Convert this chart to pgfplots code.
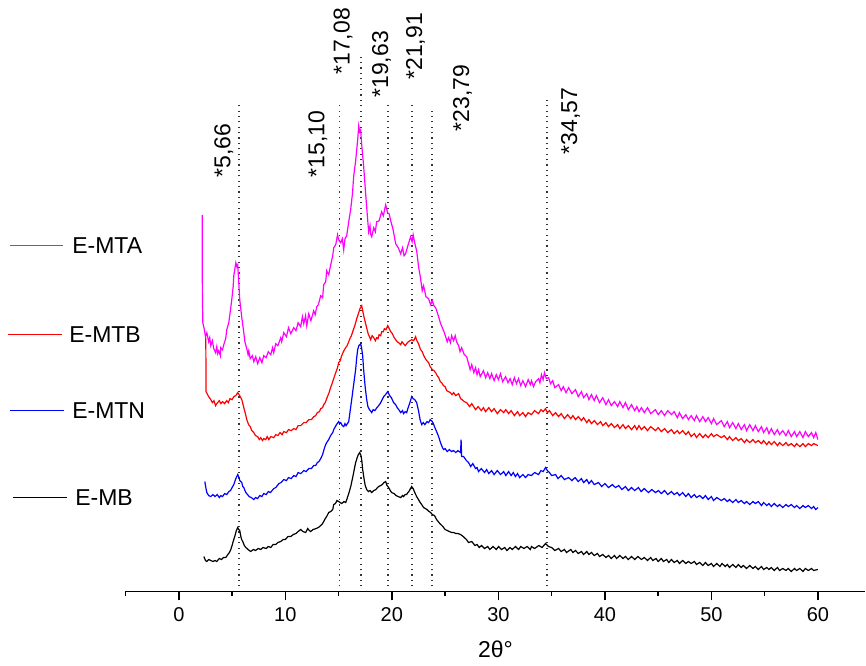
\documentclass[border=0pt]{standalone}
\usepackage{fontspec}
\setmainfont{Liberation Sans}
\usepackage{pgfplots}
\pgfplotsset{compat=1.18}
\definecolor{mta}{RGB}{255,0,255}
\definecolor{mtb}{RGB}{255,0,0}
\definecolor{mtn}{RGB}{0,0,255}
\begin{document}
\begin{tikzpicture}
\begin{axis}[
  scale only axis,
  width=370.2pt, height=296pt,
  xmin=-5, xmax=64.45, ymin=0, ymax=592,
  axis x line=bottom, axis y line=none,
  axis line style={-, line width=0.7pt},
  xtick={0,10,...,60},
  minor xtick={-5,5,15,25,35,45,55},
  tick align=outside,
  major tick length=4.5pt, minor tick length=2.4pt,
  tick style={black, line width=0.7pt},
  clip=false,
  /pgf/number format/assume math mode=true,
  xticklabel style={font=\fontsize{10}{12}\selectfont},
  xlabel={2θ°},
  x label style={at={(axis description cs:0.5,0)}, anchor=center, yshift=-29pt, font=\fontsize{11.5}{13}\selectfont},
]
% invisible frame giving the picture its size
\path (axis cs:-16.79,592) rectangle (axis cs:64.45,-74);

% reference lines
\foreach \xx/\yy in {5.66/489, 15.10/489, 17.08/537, 19.63/489, 21.91/490, 23.79/485, 34.57/494}{
  \edef\temp{\noexpand\draw[black!80, line width=0.8pt, dash pattern=on 0.6pt off 2.1pt] (axis cs:\xx,5) -- (axis cs:\xx,\yy);}
  \temp
}
\begin{scope}[every node/.style={rotate=90, anchor=west, inner sep=0pt, font=\fontsize{11.5}{13}\selectfont}]
\node at (axis cs:4.22,414) {*5,66};
\node at (axis cs:13.04,414) {*15,10};
\node at (axis cs:15.43,517) {*17,08};
\node at (axis cs:19.04,494) {*19,63};
\node at (axis cs:22.23,512) {*21,91};
\node at (axis cs:26.64,460) {*23,79};
\node at (axis cs:36.77,437) {*34,57};
\end{scope}

% legend-like labels
\begin{scope}[every node/.style={anchor=west, inner sep=0pt, font=\fontsize{11.5}{13}\selectfont}]
\draw[mta, line width=0.6pt] (axis cs:-15.85,346) -- (axis cs:-10.88,346);
\node at (axis cs:-10.04,346) {E-MTA};
\draw[mtb, line width=0.6pt] (axis cs:-16.04,257) -- (axis cs:-10.98,257);
\node at (axis cs:-10.32,257) {E-MTB};
\draw[mtn, line width=0.6pt] (axis cs:-15.85,181) -- (axis cs:-10.79,181);
\node at (axis cs:-10.04,181) {E-MTN};
\draw[black, line width=0.6pt] (axis cs:-15.57,94) -- (axis cs:-10.51,94);
\node at (axis cs:-9.76,94) {E-MB};
\end{scope}

% E-MTA
\addplot[mta, line width=0.6pt] coordinates {
(2.19,377) (2.21,300) (2.25,269) (2.4,262) (2.5,255) (2.63,259) (2.8,250) (2.9,254) (3.0,246) (3.15,251)
(3.28,243) (3.45,239) (3.56,245) (3.65,238) (3.75,241) (3.9,236) (3.94,244) (4.1,242) (4.22,247) (4.4,253)
(4.5,262) (4.69,269) (4.85,282) (4.97,292) (5.1,305) (5.16,316) (5.35,329) (5.45,325) (5.53,327) (5.72,292)
(5.9,275) (6.10,259) (6.2,250) (6.38,243) (6.5,237) (6.57,241) (6.7,233) (6.9,236) (7.04,230) (7.22,235)
(7.4,228) (7.6,234) (7.8,229) (7.97,236) (8.2,234) (8.4,240) (8.63,237) (8.8,244) (8.91,239) (9.1,248)
(9.3,246) (9.57,254) (9.66,250) (9.85,259) (10.1,255) (10.3,264) (10.51,258) (10.79,264) (11.0,261) (11.2,269)
(11.44,265) (11.6,275) (11.73,268) (11.9,276) (12.01,266) (12.2,278) (12.4,271) (12.66,281) (12.8,277) (12.95,285)
(13.1,287) (13.32,296) (13.5,294) (13.6,307) (13.79,310) (13.88,321) (14.07,317) (14.26,327) (14.45,336) (14.54,344)
(14.73,347) (14.9,357) (15.01,352) (15.2,349) (15.35,353) (15.48,342) (15.6,353) (15.76,356) (15.95,370) (16.14,383)
(16.3,398) (16.42,416) (16.60,431) (16.79,452) (16.89,466) (16.98,460) (17.07,462) (17.17,447) (17.35,426) (17.54,398)
(17.7,376) (17.82,360) (17.95,366) (18.0,358) (18.11,355) (18.3,364) (18.45,360) (18.57,370) (18.8,371) (19.04,380)
(19.2,376) (19.42,387) (19.6,379) (19.75,378) (19.89,371) (20.1,363) (20.36,348) (20.6,344) (20.83,338) (21.0,344)
(21.15,336) (21.29,338) (21.5,346) (21.76,355) (21.9,350) (22.0,357) (22.14,349) (22.33,341) (22.51,325) (22.7,313)
(22.85,301) (22.98,306) (23.2,295) (23.45,293) (23.64,287) (23.8,291) (23.95,286) (24.11,284) (24.39,275) (24.58,268)
(24.86,261) (25.05,255) (25.2,250) (25.33,254) (25.5,249) (25.61,256) (25.8,251) (25.95,256) (26.08,250) (26.27,246)
(26.4,240) (26.55,244) (26.8,237) (27.02,235)
(27.20,228) (27.35,222) (27.5,227) (27.7,219) (27.86,224) (28.0,217) (28.14,222) (28.3,215) (28.6,221) (28.8,214)
(29.0,219) (29.2,213) (29.36,218) (29.6,211) (29.8,217) (30.0,212) (30.2,218) (30.4,210) (30.68,215) (30.9,209)
(31.1,213) (31.3,207) (31.5,214) (31.7,208) (31.89,213) (32.1,206) (32.3,211) (32.55,205) (32.8,212) (33.0,207)
(33.11,211) (33.3,205) (33.5,210) (33.77,213) (33.9,209) (34.05,217) (34.2,212) (34.33,219) (34.5,213) (34.71,214)
(34.9,208) (35.1,211) (35.3,204) (35.65,207) (35.9,201) (36.1,205) (36.35,199) (36.6,204) (36.9,198) (37.24,202)
(37.5,195) (37.8,200) (38.0,194) (38.3,198) (38.5,192) (38.74,197) (39.0,191) (39.2,196) (39.5,189) (39.8,194)
(40.1,187) (40.34,192) (40.6,186) (40.9,190) (41.2,185) (41.4,190) (41.7,184) (41.93,189) (42.2,182) (42.5,187)
(42.8,181) (43.0,185) (43.2,180) (43.43,184) (43.7,179) (44.0,184) (44.3,178) (44.75,182) (45.0,177) (45.3,181)
(45.6,176) (45.9,181) (46.25,177) (46.5,180) (46.8,174) (47.0,179) (47.3,173) (47.6,177) (47.84,172) (48.1,176)
(48.4,171) (48.6,176) (48.9,170) (49.2,175) (49.44,170) (49.7,174) (50.0,168) (50.2,173) (50.5,167) (50.94,171)
(51.2,165) (51.5,170) (51.7,164) (52.0,169) (52.3,163) (52.53,168) (52.8,162) (53.1,167) (53.3,161) (53.6,167)
(53.9,161) (54.13,166) (54.4,160) (54.7,165) (54.9,159) (55.2,164) (55.4,158) (55.63,163) (55.9,157) (56.2,162)
(56.4,157) (56.7,161) (57.0,156) (57.22,161) (57.5,155) (57.8,160) (58.0,155) (58.3,160) (58.6,154) (58.82,160)
(59.1,155) (59.4,159) (59.6,154) (59.8,159) (60.0,152)
};

% E-MTB
\addplot[mtb, line width=0.6pt] coordinates {
(2.53,254) (2.56,200) (2.8,195) (3.0,192) (3.15,189) (3.3,191) (3.45,186) (3.56,188) (3.8,191) (3.95,188)
(4.1,190) (4.3,188) (4.5,191) (4.65,189) (4.8,193) (5.0,192) (5.16,195) (5.35,196) (5.53,199) (5.72,196)
(5.91,192) (6.1,184) (6.25,178) (6.38,172) (6.55,167) (6.7,165) (6.85,161) (7.04,159) (7.2,156) (7.4,155)
(7.55,152) (7.69,154) (7.85,151) (7.97,153) (8.15,152) (8.3,155) (8.45,152) (8.63,155) (8.91,154) (9.1,157)
(9.3,156) (9.5,159) (9.7,157) (9.85,160) (10.1,159) (10.3,162) (10.55,161) (10.79,163) (11.0,162) (11.2,166)
(11.45,166) (11.73,169) (11.95,169) (12.2,172) (12.45,172) (12.66,175) (12.85,176) (13.0,179) (13.2,180) (13.32,183)
(13.5,184) (13.6,187) (13.75,189) (13.88,193) (14.07,198) (14.25,204) (14.45,210) (14.6,215) (14.73,219) (14.9,224)
(15.0,229) (15.15,231) (15.29,236) (15.45,240) (15.6,243) (15.8,246) (15.95,250) (16.1,254) (16.2,256) (16.42,263)
(16.55,267) (16.7,273) (16.89,279) (17.0,283) (17.17,286) (17.3,279) (17.4,274) (17.54,268) (17.7,261) (17.8,257)
(17.9,255) (18.01,252) (18.15,256) (18.3,254) (18.45,251) (18.57,254) (18.7,253) (18.8,257) (18.95,256) (19.04,260)
(19.2,260) (19.3,263) (19.45,262) (19.61,266) (19.75,263) (19.9,260) (20.05,258) (20.17,255) (20.35,252) (20.5,250)
(20.65,249) (20.83,247) (20.95,250) (21.1,248) (21.25,246) (21.39,248) (21.55,250) (21.7,251) (21.86,252) (22.05,251)
(22.23,255) (22.35,251) (22.5,248) (22.70,242) (22.85,240) (23.0,236) (23.2,232) (23.45,229) (23.6,225) (23.8,222)
(23.95,221) (24.11,219) (24.25,216) (24.4,214) (24.55,210) (24.67,209) (24.85,206) (25.0,205) (25.15,201) (25.33,200)
(25.5,199) (25.65,197) (25.8,199) (26.0,196) (26.27,198) (26.45,193) (26.6,192) (26.8,190)
(27.02,189) (27.3,185) (27.5,188) (27.86,182) (28.1,185) (28.4,181) (28.6,184) (28.8,180) (29.1,184) (29.36,180)
(29.6,183) (29.9,178) (30.2,182) (30.5,179) (30.7,182) (30.96,178) (31.2,181) (31.5,176) (31.8,180) (32.0,176)
(32.3,179) (32.55,175) (32.8,179) (33.1,177) (33.4,181) (33.77,178) (34.0,182) (34.2,180) (34.43,183) (34.6,179)
(34.8,181) (35.1,176) (35.37,179) (35.65,175) (35.9,178) (36.2,173) (36.5,177) (36.8,173) (37.0,176) (37.24,172)
(37.5,175) (37.8,171) (38.0,174) (38.3,169) (38.5,172) (38.74,168) (39.0,171) (39.3,167) (39.6,170) (39.8,166)
(40.1,169) (40.34,165) (40.6,168) (40.9,164) (41.2,167) (41.4,163) (41.7,167) (41.93,163) (42.2,166) (42.5,162)
(42.8,166) (43.0,162) (43.2,166) (43.43,162) (43.7,165) (44.0,161) (44.3,165) (44.75,161) (45.0,164) (45.3,160)
(45.6,163) (45.9,159) (46.25,162) (46.5,158) (46.8,161) (47.0,158) (47.3,161) (47.6,157) (47.84,160) (48.1,155)
(48.4,158) (48.6,154) (48.9,158) (49.2,154) (49.44,157) (49.7,154) (50.0,158) (50.2,155) (50.5,157) (50.94,154)
(51.2,156) (51.5,152) (51.7,155) (52.0,151) (52.3,154) (52.53,151) (52.8,153) (53.1,149) (53.3,152) (53.6,149)
(53.9,152) (54.13,149) (54.4,151) (54.7,148) (54.9,151) (55.2,147) (55.4,150) (55.63,147) (55.9,150) (56.2,146)
(56.4,149) (56.7,146) (57.0,149) (57.22,146) (57.5,148) (57.8,145) (58.0,148) (58.3,145) (58.6,148) (58.82,145)
(59.1,148) (59.4,146) (59.6,148) (60.0,146)
};

% E-MTN
\addplot[mtn, line width=0.6pt] coordinates {
(2.44,110) (2.55,103) (2.63,99) (2.8,96) (3.0,95) (3.2,97) (3.4,95) (3.6,97) (3.8,94) (3.94,96)
(4.1,95) (4.3,98) (4.5,97) (4.69,100) (4.85,101) (5.0,104) (5.16,107) (5.35,113) (5.53,117) (5.65,114)
(5.72,111) (5.91,109) (6.0,105) (6.1,104) (6.29,99) (6.45,97) (6.6,95) (6.8,94) (7.04,92) (7.2,94)
(7.4,93) (7.6,96) (7.8,95) (7.97,98) (8.2,97) (8.4,100) (8.6,99) (8.91,103) (9.1,104) (9.4,108)
(9.6,109) (9.85,112) (10.1,111) (10.3,114) (10.55,113) (10.79,116) (11.0,115) (11.2,119) (11.45,118) (11.73,121)
(11.95,120) (12.2,123) (12.45,123) (12.66,126) (12.85,126) (13.0,129) (13.15,130) (13.32,133) (13.5,137) (13.6,141)
(13.75,146) (13.88,149) (14.07,152) (14.25,156) (14.45,159) (14.54,162) (14.7,165) (14.8,167) (15.01,170) (15.1,168)
(15.2,169) (15.35,166) (15.48,165) (15.6,168) (15.7,166) (15.95,170) (16.1,182) (16.23,192) (16.4,206) (16.60,222)
(16.7,234) (16.79,242) (16.9,246) (17.07,248) (17.17,243) (17.26,236) (17.35,222) (17.5,204) (17.64,192) (17.75,185)
(17.9,182) (18.11,179) (18.25,182) (18.4,181) (18.6,184) (18.76,186) (18.9,188) (19.0,190) (19.23,195) (19.4,197)
(19.61,200) (19.8,196) (19.95,194) (20.17,189) (20.35,187) (20.5,184) (20.65,182) (20.83,179) (21.0,181) (21.1,178)
(21.25,180) (21.39,179) (21.5,183) (21.6,186) (21.75,191) (21.86,195) (22.0,193) (22.15,192) (22.33,189) (22.5,181)
(22.65,172) (22.80,167) (22.95,169) (23.1,167) (23.3,170) (23.45,169) (23.6,172) (23.8,170) (23.9,168) (24.0,165)
(24.2,160) (24.39,155) (24.6,148) (24.75,144) (24.86,142) (25.0,143) (25.2,140) (25.4,142) (25.61,140) (25.8,141)
(26.0,139) (26.2,141) (26.45,139) (26.5,152) (26.55,135) (26.74,135) (27.0,131)
(27.20,129) (27.4,125) (27.6,128) (27.86,123) (28.0,124) (28.14,120) (28.4,123) (28.7,119) (28.9,122) (29.1,118)
(29.36,121) (29.6,117) (29.9,121) (30.2,117) (30.5,120) (30.7,116) (30.96,120) (31.2,116) (31.4,119) (31.6,115)
(31.8,118) (32.0,114) (32.3,117) (32.55,114) (32.8,117) (33.1,116) (33.4,119) (33.77,117) (34.0,121) (34.2,120)
(34.43,124) (34.6,121) (34.8,119) (35.0,116) (35.37,117) (35.6,113) (35.9,116) (36.2,112) (36.59,114) (36.9,111)
(37.2,114) (37.5,110) (37.80,113) (38.0,109) (38.3,112) (38.5,108) (38.74,111) (39.0,107) (39.40,109) (39.7,105)
(40.0,108) (40.34,104) (40.7,107) (40.99,104) (41.3,106) (41.6,102) (41.93,105) (42.2,101) (42.50,104) (42.8,101)
(43.15,104) (43.4,100) (43.7,103) (44.09,99) (44.4,102) (44.75,99) (45.03,101) (45.3,98) (45.6,101) (45.9,97)
(46.25,100) (46.5,97) (46.8,99) (47.0,96) (47.3,99) (47.6,95) (47.84,98) (48.1,94) (48.4,97) (48.6,94)
(48.9,96) (49.2,93) (49.44,96) (49.7,92) (50.0,95) (50.2,91) (50.5,94) (50.94,91) (51.2,93) (51.5,90)
(51.7,92) (52.0,89) (52.3,92) (52.53,89) (52.8,91) (53.1,88) (53.3,90) (53.6,87) (53.9,90) (54.13,88)
(54.4,90) (54.7,86) (54.9,89) (55.2,86) (55.4,88) (55.63,85) (55.9,88) (56.2,85) (56.4,87) (56.7,84)
(57.0,87) (57.22,85) (57.5,87) (57.8,84) (58.0,86) (58.3,83) (58.6,86) (58.82,84) (59.1,86) (59.4,83)
(59.6,85) (59.8,82) (60.0,84)
};

% E-MB
\addplot[black, line width=0.6pt] coordinates {
(2.35,35) (2.5,31) (2.63,30) (2.8,32) (3.0,31) (3.2,30) (3.4,31) (3.56,30) (3.8,33) (4.0,32)
(4.2,34) (4.41,34) (4.6,37) (4.75,39) (4.88,42) (5.0,46) (5.1,50) (5.25,55) (5.4,61) (5.53,64)
(5.62,62) (5.72,61) (5.82,55) (5.9,52) (6.0,50) (6.15,46) (6.29,44) (6.5,42) (6.75,40) (7.0,42)
(7.2,41) (7.45,43) (7.69,42) (7.9,44) (8.2,43) (8.4,45) (8.63,44) (8.85,47) (9.1,47) (9.3,49)
(9.57,50) (9.8,52) (10.0,52) (10.25,55) (10.51,55) (10.75,57) (11.0,58) (11.2,60) (11.44,62) (11.65,60)
(11.91,59) (12.1,63) (12.25,61) (12.38,60) (12.6,62) (12.9,63) (13.1,64) (13.32,66) (13.5,68) (13.6,70)
(13.75,73) (13.88,75) (14.07,79) (14.25,80) (14.45,82) (14.54,87) (14.7,88) (14.85,91) (15.01,90) (15.15,89)
(15.3,88) (15.5,90) (15.67,89) (15.8,93) (15.95,98) (16.14,105) (16.3,113) (16.45,121) (16.60,129) (16.75,134)
(16.85,137) (16.98,139) (17.1,136) (17.18,131) (17.26,122) (17.4,112) (17.5,106) (17.64,102) (17.8,100) (17.95,101)
(18.11,99) (18.3,101) (18.5,102) (18.65,104) (18.76,105) (18.95,106) (19.1,107) (19.25,109) (19.42,110) (19.55,106)
(19.7,104) (19.85,101) (19.98,99) (20.2,98) (20.4,96) (20.6,95) (20.83,94) (21.0,96) (21.1,95) (21.25,97)
(21.39,97) (21.5,99) (21.6,100) (21.75,103) (21.86,105) (22.0,103) (22.15,99) (22.33,95) (22.5,92) (22.6,90)
(22.8,87) (22.98,84) (23.15,83) (23.3,82) (23.5,80) (23.64,79) (23.8,77) (24.0,76) (24.1,74) (24.20,72)
(24.35,70) (24.5,68) (24.7,66) (24.86,64) (25.0,62) (25.2,61) (25.4,60) (25.61,59) (25.8,59) (26.0,58)
(26.2,58) (26.45,57) (26.7,55)
(27.0,52) (27.2,49) (27.5,50) (27.8,46) (28.0,47) (28.2,44) (28.42,46) (28.7,43) (29.0,45) (29.2,42)
(29.5,45) (29.8,42) (30.02,45) (30.3,42) (30.6,44) (30.8,41) (31.1,44) (31.3,42) (31.61,45) (31.9,42)
(32.1,45) (32.4,43) (32.7,45) (33.0,42) (33.11,45) (33.4,43) (33.8,46) (34.1,44) (34.43,48) (34.7,45)
(35.0,44) (35.3,41) (35.65,43) (35.9,40) (36.2,42) (36.4,39) (36.8,42) (37.0,39) (37.24,41) (37.5,38)
(37.8,40) (38.0,37) (38.3,40) (38.5,37) (38.74,39) (39.0,36) (39.3,38) (39.5,35) (39.8,37) (40.1,34)
(40.34,36) (40.6,33) (40.9,36) (41.1,33) (41.4,36) (41.7,33) (41.93,35) (42.2,32) (42.5,35) (42.8,32)
(43.1,35) (43.43,32) (43.7,34) (44.0,31) (44.3,34) (44.5,31) (44.8,33) (45.0,30) (45.3,33) (45.5,30)
(45.8,32) (46.0,29) (46.25,32) (46.5,29) (46.8,31) (47.0,28) (47.3,31) (47.6,28) (47.84,30) (48.1,28)
(48.4,30) (48.6,27) (48.9,29) (49.2,26) (49.44,29) (49.7,26) (50.0,28) (50.2,25) (50.5,28) (50.8,25)
(51.0,28) (51.3,25) (51.5,27) (51.7,24) (52.0,27) (52.3,24) (52.53,27) (52.8,24) (53.0,26) (53.3,23)
(53.6,26) (53.9,23) (54.13,25) (54.4,22) (54.7,25) (54.9,22) (55.2,24) (55.4,22) (55.63,24) (55.9,21)
(56.2,24) (56.4,21) (56.7,23) (57.0,21) (57.22,23) (57.5,20) (57.8,23) (58.0,21) (58.3,23) (58.6,20)
(58.82,23) (59.1,21) (59.4,23) (59.6,21) (60.0,22)
};
\end{axis}
\end{tikzpicture}
\end{document}
